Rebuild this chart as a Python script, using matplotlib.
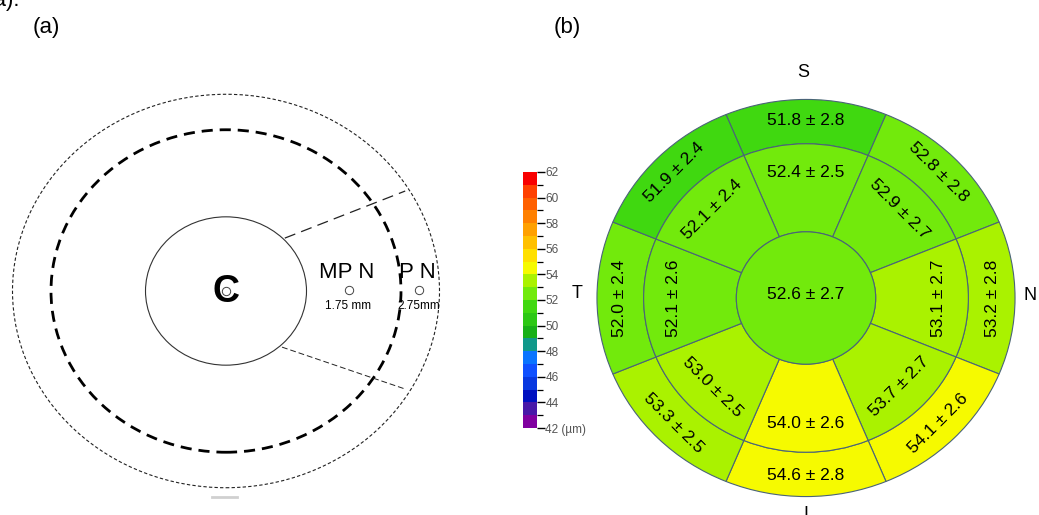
import numpy as np
import matplotlib
matplotlib.use("Agg")
import matplotlib.pyplot as plt
from matplotlib.patches import Circle, Wedge
from matplotlib.colors import ListedColormap, BoundaryNorm
from matplotlib.cm import ScalarMappable
from matplotlib.ticker import MultipleLocator

plt.rcParams["font.family"] = ["Liberation Sans", "DejaVu Sans"]

# -----------------------------
# Data
# -----------------------------

# sectors go clockwise from superior; angle is the sector centre (degrees)
sectors = ["S", "SN", "N", "IN", "I", "IT", "T", "ST"]
sector_angles = [90, 45, 0, -45, -90, -135, 180, 135]

center_mean = 52.6
center_sd = 2.7
inner_mean = [52.4, 52.9, 53.1, 53.7, 54.0, 53.0, 52.1, 52.1]
inner_sd = [2.5, 2.7, 2.7, 2.7, 2.6, 2.5, 2.6, 2.4]
outer_mean = [51.8, 52.8, 53.2, 54.1, 54.6, 53.3, 52.0, 51.9]
outer_sd = [2.8, 2.8, 2.8, 2.6, 2.8, 2.5, 2.4, 2.4]

# colour scale of the thickness map (µm), one colour per 1 µm step
scale_bounds = list(range(42, 63))
scale_colors = [
    "#8000a0", "#4818a8", "#0010c0", "#0838e0", "#1050ff",
    "#0a74ff", "#10988a", "#18b018", "#2cc814", "#40d810",
    "#72ea0c", "#aaf200", "#f6fa00", "#ffe000", "#ffc000",
    "#ffa000", "#ff8000", "#ff6000", "#ff4000", "#f80000",
]
scale_ticks = list(range(42, 63, 2))

# measurement points of panel (a): name, distance (mm)
points = ["MP N", "P N"]
point_dist = [1.75, 2.75]
point_labels = ["1.75 mm", "2.75mm"]

fig = plt.figure(figsize=(10.39, 5.15), dpi=100)
W, H = 1039, 515

# -----------------------------
# (a) scheme of measurement points
# -----------------------------
ax_a = fig.add_axes([0, 0, 460 / W, 455 / H])
ax_a.set_xlim(-226 / 70, 234 / 70)
ax_a.set_ylim(-224 / 64.5, 231 / 64.5)
ax_a.axis("off")

ax_a.add_patch(Circle((0, 0), 1.15, fill=False, ec="#333333", lw=0.8))
ax_a.add_patch(Circle((0, 0), 2.5, fill=False, ec="black", lw=2.0,
                      ls=(0, (4, 2.5))))
ax_a.add_patch(Circle((0, 0), 3.05, fill=False, ec="#222222", lw=0.8,
                      ls=(0, (3, 2))))

ax_a.plot([0.84, 2.56], [0.82, 1.55], color="#222222", lw=0.9,
          ls=(0, (9, 5)))
ax_a.plot([0.80, 2.56], [-0.87, -1.52], color="#222222", lw=0.7,
          ls=(0, (6, 3)))
ax_a.plot([-0.2, 0.16], [-3.19, -3.19], color="#d0d0d0", lw=2)

ax_a.plot([0], [0], "o", ms=6, mfc="white", mec="#444444", mew=0.7)
ax_a.text(0, -0.02, "C", fontsize=27, fontweight="bold", ha="center",
          va="center")

for name, d, lab in zip(points, point_dist, point_labels):
    ax_a.plot([d], [0.02], "o", ms=6, mfc="white", mec="#444444", mew=0.7)
    ax_a.text(d - 0.02, 0.28, name, fontsize=16, ha="center", va="center")
    ax_a.text(d, -0.23, lab, fontsize=8.5, ha="center", va="center",
              stretch="condensed")

# -----------------------------
# (b) thickness map
# -----------------------------
cmap = ListedColormap(scale_colors)
norm = BoundaryNorm(scale_bounds, cmap.N)

ax_b = fig.add_axes([590 / W, 5.2 / H, 432 / W, 423.6 / H])
ax_b.set_xlim(-3.1, 3.1)
ax_b.set_ylim(-3.2, 3.2)
ax_b.axis("off")

edge = "#4a6478"
r_center, r_inner, r_outer = 1.0, 2.33, 3.0

for ang, m_in, s_in, m_out, s_out in zip(sector_angles, inner_mean, inner_sd,
                                         outer_mean, outer_sd):
    t1, t2 = ang - 22.5, ang + 22.5
    ax_b.add_patch(Wedge((0, 0), r_outer, t1, t2, width=r_outer - r_inner,
                         fc=cmap(norm(m_out)), ec=edge, lw=0.8))
    ax_b.add_patch(Wedge((0, 0), r_inner, t1, t2, width=r_inner - r_center,
                         fc=cmap(norm(m_in)), ec=edge, lw=0.8))

    rot = ang - 90
    while rot <= -90:
        rot += 180
    while rot > 90:
        rot -= 180
    a = np.deg2rad(ang)
    for r, m, s in [(2.68, m_out, s_out), (1.9, m_in, s_in)]:
        ax_b.text(r * np.cos(a), r * np.sin(a), f"{m:.1f} ± {s:.1f}",
                  fontsize=12.5, ha="center", va="center", rotation=rot,
                  rotation_mode="anchor")

ax_b.add_patch(Circle((0, 0), r_center, fc=cmap(norm(center_mean)), ec=edge,
                      lw=0.8))
ax_b.text(0, 0.05, f"{center_mean:.1f} ± {center_sd:.1f}", fontsize=12.5,
          ha="center", va="center")

ax_b.text(-0.04, 3.4, "S", fontsize=13, ha="center", va="center", clip_on=False)
ax_b.text(3.22, 0.04, "N", fontsize=13, ha="center", va="center", clip_on=False)
ax_b.text(-3.29, 0.07, "T", fontsize=13, ha="center", va="center", clip_on=False)
ax_b.text(0.0, -3.27, "I", fontsize=13, ha="center", va="center", clip_on=False)

# colour bar
cax = fig.add_axes([523 / W, (H - 428) / H, 14 / W, 256 / H])
cbar = fig.colorbar(ScalarMappable(norm=norm, cmap=cmap), cax=cax,
                    ticks=scale_ticks)
cbar.outline.set_visible(False)
cbar.ax.yaxis.set_minor_locator(MultipleLocator(1))
cbar.ax.set_yticklabels([f"{t} (µm)" if t == 42 else str(t) for t in scale_ticks])
cbar.ax.tick_params(which="major", length=6, width=1, pad=0, labelsize=8.5,
                    labelcolor="#555555")
cbar.ax.tick_params(which="minor", length=4, width=0.9)

# panel labels
fig.text(46 / W, 1 - 27 / H, "(a)", fontsize=16, ha="center", va="center")
fig.text(567 / W, 1 - 27 / H, "(b)", fontsize=16, ha="center", va="center")
fig.text(20 / W, 1 - 6 / H, "(a).", fontsize=16, ha="right", va="baseline")

fig.savefig("out.png", dpi=100)
